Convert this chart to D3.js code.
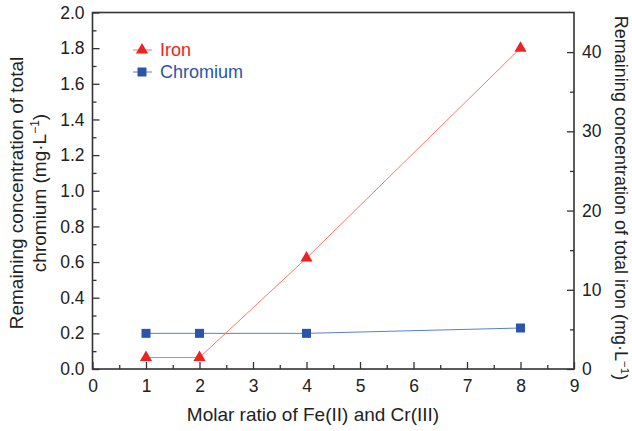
<!DOCTYPE html>
<html>
<head>
<meta charset="utf-8">
<script src="https://cdn.jsdelivr.net/npm/d3@7/dist/d3.min.js"></script>
<style>
  html, body { margin: 0; padding: 0; background: #fff; }
  svg { display: block; }
  text { font-family: "Liberation Sans", Arial, sans-serif; }
</style>
</head>
<body>
<svg id="chart" width="632" height="431"></svg>
<script>
// Molar ratio Fe(II) : Cr(III)
const ratios = [1, 2, 4, 8];
// Remaining total chromium, mg/L (left axis)
const chromium = [0.20, 0.20, 0.20, 0.23];
// Remaining total iron, mg/L (right axis)
const iron = [1.45, 1.45, 14.0, 40.5];

const xTicks = [0, 1, 2, 3, 4, 5, 6, 7, 8, 9];
const leftTicks = [0, 0.2, 0.4, 0.6, 0.8, 1.0, 1.2, 1.4, 1.6, 1.8, 2.0];
const rightTicks = [0, 10, 20, 30, 40];

const ironColor = "#ee2222", ironLine = "#f47a6a";
const crColor = "#2a55a8", crLine = "#5b7fcc";
const axisColor = "#333";

const svg = d3.select("#chart");
const m = { left: 92.5, right: 574, top: 12.5, bottom: 369 };

const x = d3.scaleLinear().domain([0, 9]).range([m.left, m.right]);
const yL = d3.scaleLinear().domain([0, 2]).range([m.bottom, m.top]);
const yR = d3.scaleLinear().domain([0, 45]).range([m.bottom, m.top]);

function styleAxis(g) {
  g.select(".domain").remove();
  g.selectAll("line").attr("stroke", axisColor).attr("stroke-width", 1.3);
  g.selectAll("text").attr("fill", "#222").style("font-size", "17.5px");
}

// minor ticks first so major ticks draw on top
svg.append("g").attr("transform", `translate(0,${m.bottom})`)
  .call(d3.axisBottom(x).tickValues(d3.range(0.5, 9, 1)).tickSize(-4).tickFormat(""))
  .call(styleAxis);
svg.append("g").attr("transform", `translate(0,${m.bottom})`)
  .call(d3.axisBottom(x).tickValues(xTicks).tickSize(-7).tickPadding(10.5).tickFormat(d3.format("d")))
  .call(styleAxis);

svg.append("g").attr("transform", `translate(${m.left},0)`)
  .call(d3.axisLeft(yL).tickValues(d3.range(0.1, 2, 0.2)).tickSize(-4).tickFormat(""))
  .call(styleAxis);
svg.append("g").attr("transform", `translate(${m.left},0)`)
  .call(d3.axisLeft(yL).tickValues(leftTicks).tickSize(-7).tickPadding(8).tickFormat(d3.format(".1f")))
  .call(styleAxis);

svg.append("g").attr("transform", `translate(${m.right},0)`)
  .call(d3.axisRight(yR).tickValues([5, 15, 25, 35]).tickSize(-4).tickFormat(""))
  .call(styleAxis);
svg.append("g").attr("transform", `translate(${m.right},0)`)
  .call(d3.axisRight(yR).tickValues(rightTicks).tickSize(-7).tickPadding(8).tickFormat(d3.format("d")))
  .call(styleAxis);

// plot frame
svg.append("rect")
  .attr("x", m.left).attr("y", m.top)
  .attr("width", m.right - m.left).attr("height", m.bottom - m.top)
  .attr("fill", "none").attr("stroke", axisColor).attr("stroke-width", 1.6);

const tri = d3.symbol().type(d3.symbolTriangle).size(64);
const sq = d3.symbol().type(d3.symbolSquare).size(81);

// chromium series
const crData = ratios.map((r, i) => [r, chromium[i]]);
svg.append("path").datum(crData)
  .attr("fill", "none").attr("stroke", crLine).attr("stroke-width", 1)
  .attr("d", d3.line().x(d => x(d[0])).y(d => yL(d[1])));
svg.selectAll(".cr").data(crData).join("path")
  .attr("transform", d => `translate(${x(d[0])},${yL(d[1])})`)
  .attr("d", sq).attr("fill", crColor);

// iron series
const feData = ratios.map((r, i) => [r, iron[i]]);
svg.append("path").datum(feData)
  .attr("fill", "none").attr("stroke", ironLine).attr("stroke-width", 1)
  .attr("d", d3.line().x(d => x(d[0])).y(d => yR(d[1])));
svg.selectAll(".fe").data(feData).join("path")
  .attr("transform", d => `translate(${x(d[0])},${yR(d[1])})`)
  .attr("d", tri).attr("fill", ironColor);

// legend
const legend = [
  { label: "Iron", color: ironColor, line: ironLine, shape: tri, y: 50 },
  { label: "Chromium", color: crColor, line: crLine, shape: sq, y: 72 }
];
legend.forEach(d => {
  svg.append("line").attr("x1", 133).attr("x2", 152).attr("y1", d.y).attr("y2", d.y)
    .attr("stroke", d.line).attr("stroke-width", 1);
  svg.append("path").attr("transform", `translate(142,${d.y})`)
    .attr("d", d.shape).attr("fill", d.color);
  svg.append("text").attr("x", 160).attr("y", d.y + 6)
    .attr("fill", d.color).style("font-size", "18px").text(d.label);
});

// axis titles
svg.append("text").attr("x", 313).attr("y", 421)
  .attr("text-anchor", "middle").attr("fill", "#222").style("font-size", "19px")
  .text("Molar ratio of Fe(II) and Cr(III)");

const leftTitle = svg.append("text").attr("transform", "translate(0,193) rotate(-90)")
  .attr("text-anchor", "middle").attr("fill", "#222").style("font-size", "19px");
leftTitle.append("tspan").attr("x", 0).attr("y", 23).text("Remaining concentration of total");
leftTitle.append("tspan").attr("x", 0).attr("y", 46).text("chromium (mg·L")
  .append("tspan").attr("baseline-shift", "super").style("font-size", "12px").text("−1");
leftTitle.append("tspan").text(")");

const rightTitle = svg.append("text").attr("transform", "translate(615,198) rotate(90)")
  .attr("text-anchor", "middle").attr("fill", "#222").style("font-size", "18px");
rightTitle.append("tspan").attr("x", 0).attr("y", 0).text("Remaining concentration of total iron (mg·L");
rightTitle.append("tspan").attr("baseline-shift", "super").style("font-size", "11.5px").text("−1");
rightTitle.append("tspan").text(")");
</script>
</body>
</html>
